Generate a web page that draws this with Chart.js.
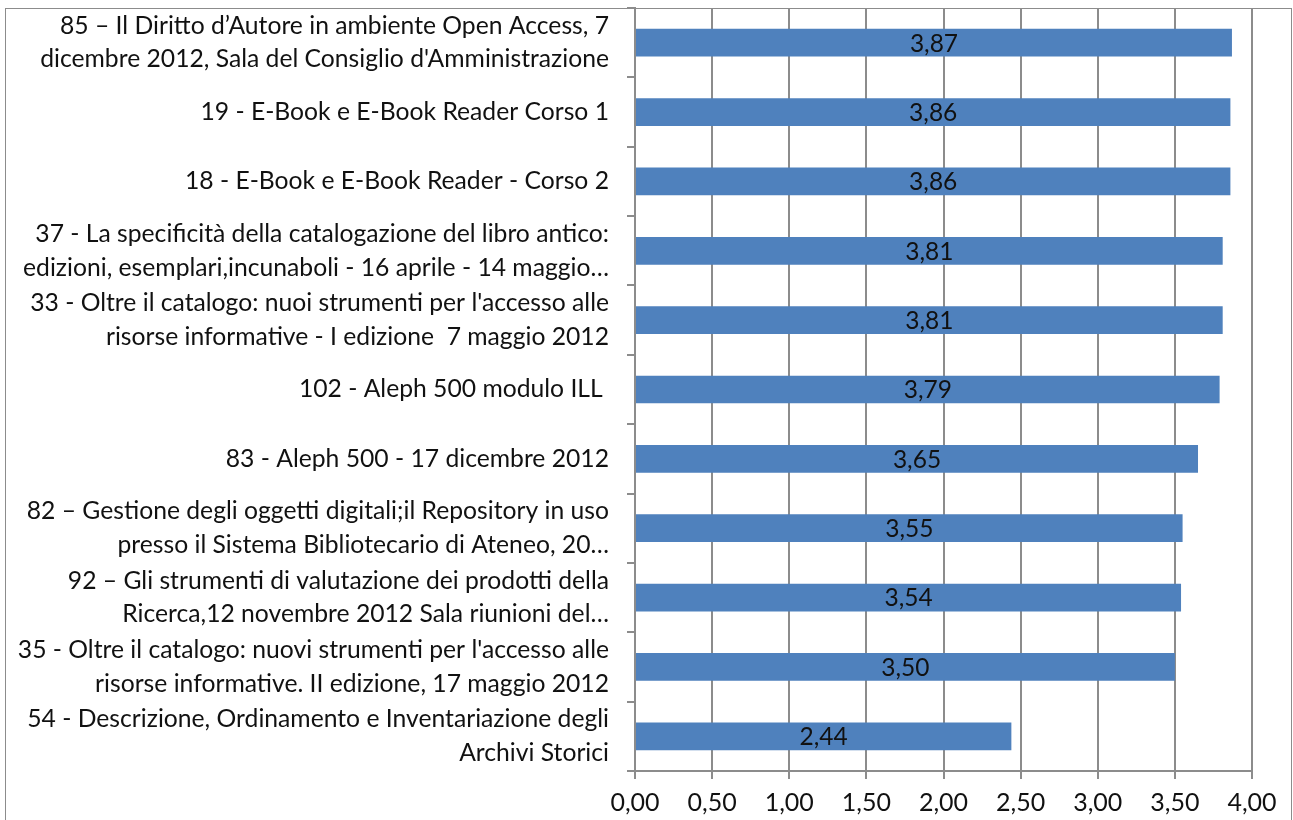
<!DOCTYPE html>
<html>
<head>
<meta charset="utf-8">
<script src="https://cdn.jsdelivr.net/npm/chart.js@4.4.0/dist/chart.umd.min.js"></script>
<style>
  html, body { margin: 0; padding: 0; background: #fff; overflow: hidden; }
  #wrap { position: relative; width: 1293px; height: 820px; }
  #box { position: absolute; left: 5px; top: 8px; width: 1287px; height: 840px; border: 1px solid #8c8c8c; box-sizing: border-box; }
  canvas { position: absolute; left: 0; top: 0; }
</style>
</head>
<body>
<div id="wrap">
  <div id="box"></div>
  <canvas id="grafico" width="1293" height="820"></canvas>
</div>
<script>
// Corsi e valutazione media
const corsi = [
  ['85 \u2013 Il Diritto d\u2019Autore in ambiente Open Access, 7', "dicembre 2012, Sala del Consiglio d'Amministrazione"],
  '19 - E-Book e E-Book Reader Corso 1',
  '18 - E-Book e E-Book Reader - Corso 2',
  ['37 - La specificit\u00e0 della catalogazione del libro antico:', 'edizioni, esemplari,incunaboli - 16 aprile - 14 maggio\u2026'],
  ["33 - Oltre il catalogo: nuoi strumenti per l'accesso alle", 'risorse informative - I edizione  7 maggio 2012'],
  '102 - Aleph 500 modulo ILL ',
  '83 - Aleph 500 - 17 dicembre 2012',
  ['82 \u2013 Gestione degli oggetti digitali;il Repository in uso', 'presso il Sistema Bibliotecario di Ateneo, 20\u2026'],
  ['92 \u2013 Gli strumenti di valutazione dei prodotti della', 'Ricerca,12 novembre 2012 Sala riunioni del\u2026'],
  ["35 - Oltre il catalogo: nuovi strumenti per l'accesso alle", 'risorse informative. II edizione, 17 maggio 2012'],
  ['54 - Descrizione, Ordinamento e Inventariazione degli', 'Archivi Storici']
];
const medie = [3.87, 3.86, 3.86, 3.81, 3.81, 3.79, 3.65, 3.55, 3.54, 3.50, 2.44];

const asseMin = 0;
const asseMax = 4;
const passo = 0.5;

const FONT = 'Lato, "Liberation Sans", sans-serif';
const fmt = v => v.toFixed(2).replace('.', ',');

// etichette dentro le barre
const etichetteBarre = {
  id: 'etichetteBarre',
  afterDatasetsDraw(chart) {
    const ctx = chart.ctx;
    const meta = chart.getDatasetMeta(0);
    ctx.save();
    ctx.font = '24.5px ' + FONT;
    ctx.fillStyle = '#111';
    ctx.textAlign = 'center';
    ctx.textBaseline = 'middle';
    meta.data.forEach((bar, i) => {
      const x = (bar.x + bar.base) / 2;
      ctx.fillText(fmt(medie[i]), x, bar.y + 1);
    });
    ctx.restore();
  }
};

new Chart(document.getElementById('grafico'), {
  type: 'bar',
  data: {
    labels: corsi,
    datasets: [{
      data: medie,
      backgroundColor: '#4f81bd',
      borderWidth: 0,
      barPercentage: 0.4,
      categoryPercentage: 1
    }]
  },
  options: {
    indexAxis: 'y',
    responsive: false,
    animation: false,
    layout: { padding: { left: 6, right: 41, top: 8, bottom: 0 } },
    plugins: { legend: { display: false }, tooltip: { enabled: false } },
    scales: {
      x: {
        min: asseMin,
        max: asseMax,
        ticks: {
          stepSize: passo,
          callback: v => fmt(v),
          color: '#111',
          font: { family: FONT, size: 25 },
          padding: 9
        },
        grid: { color: '#8c8c8c', lineWidth: 2, tickLength: 8 },
        border: { color: '#8c8c8c', width: 2 },
        afterFit: s => { s.height = 49; s.paddingLeft = 0; s.paddingRight = 0; }
      },
      y: {
        ticks: {
          color: '#111',
          font: { family: FONT, size: 24.7, lineHeight: 1.36 },
          padding: 18,
          crossAlign: 'near',
          autoSkip: false
        },
        grid: { display: true, drawOnChartArea: false, offset: true, color: '#8c8c8c', tickLength: 8, lineWidth: 2 },
        border: { color: '#8c8c8c', width: 2 },
        afterFit: s => { s.width = 629; s.paddingTop = 0; s.paddingBottom = 0; }
      }
    }
  },
  plugins: [etichetteBarre]
});
</script>
</body>
</html>
